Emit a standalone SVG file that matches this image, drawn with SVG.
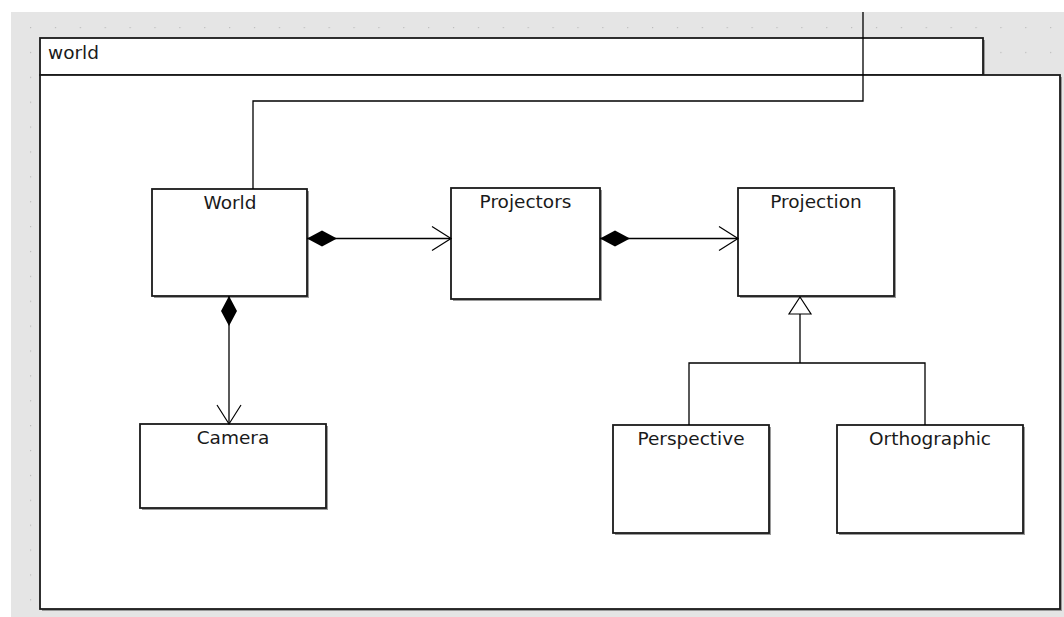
<svg xmlns="http://www.w3.org/2000/svg" width="1064" height="617" viewBox="0 0 1064 617">
  <defs>
    <pattern id="grid" x="30" y="27" width="24.88" height="24.88" patternUnits="userSpaceOnUse">
      <rect x="-1.2" y="-1.2" width="2.4" height="2.4" fill="#bcbcbc"/>
    </pattern>
    <marker id="diamond" markerUnits="userSpaceOnUse" markerWidth="32" markerHeight="20" refX="0" refY="0" viewBox="-1 -10 32 20" orient="auto" overflow="visible">
      <path d="M0,0 L15,-8 L30,0 L15,8 Z" fill="#000"/>
    </marker>
    <marker id="open" markerUnits="userSpaceOnUse" markerWidth="24" markerHeight="28" refX="0" refY="0" viewBox="-22 -14 24 28" orient="auto" overflow="visible">
      <path d="M-19,-12 L0,0 L-19,12" fill="none" stroke="#000" stroke-width="1.2"/>
    </marker>
    <marker id="tri" markerUnits="userSpaceOnUse" markerWidth="22" markerHeight="26" refX="0" refY="0" viewBox="-19 -13 22 26" orient="auto" overflow="visible">
      <path d="M0,0 L-17,-11 L-17,11 Z" fill="#fff" stroke="#000" stroke-width="1.2"/>
    </marker>
  </defs>
  <style>
    .shadow { fill: #9a9a9a; }
    .box { fill: #ffffff; stroke: #1a1a1a; stroke-width: 1.8; }
    .lbl { font-family: "DejaVu Sans", "Liberation Sans", sans-serif; font-size: 18.5px; fill: #1a1a1a; text-anchor: middle; }
    .pkg { font-family: "DejaVu Sans", "Liberation Sans", sans-serif; font-size: 18.5px; fill: #1a1a1a; }
    .conn { fill: none; stroke: #000; stroke-width: 1.3; }
  </style>

  <!-- canvas -->
  <rect x="0" y="0" width="1064" height="617" fill="#ffffff"/>
  <rect x="11" y="12" width="1053" height="605" fill="#e5e5e5"/>
  <rect x="11" y="12" width="1053" height="605" fill="url(#grid)"/>

  <!-- package -->
  <g id="package-world">
    <rect class="shadow" x="42" y="40" width="943" height="37"/>
    <rect class="box" x="40" y="38" width="943" height="37"/>
    <rect class="shadow" x="42" y="77" width="1020" height="534"/>
    <rect class="box" x="40" y="75" width="1020" height="534"/>
    <text class="pkg" x="48" y="59">world</text>
  </g>

  <!-- nodes -->
  <g id="node-World">
    <rect class="shadow" x="154" y="191" width="155" height="107"/>
    <rect class="box" x="152" y="189" width="155" height="107"/>
    <text class="lbl" x="230" y="209">World</text>
  </g>
  <g id="node-Projectors">
    <rect class="shadow" x="453" y="190" width="149" height="111"/>
    <rect class="box" x="451" y="188" width="149" height="111"/>
    <text class="lbl" x="525.5" y="208">Projectors</text>
  </g>
  <g id="node-Projection">
    <rect class="shadow" x="740" y="190" width="156" height="108"/>
    <rect class="box" x="738" y="188" width="156" height="108"/>
    <text class="lbl" x="816" y="208">Projection</text>
  </g>
  <g id="node-Camera">
    <rect class="shadow" x="142" y="426" width="186" height="84"/>
    <rect class="box" x="140" y="424" width="186" height="84"/>
    <text class="lbl" x="233" y="444">Camera</text>
  </g>
  <g id="node-Perspective">
    <rect class="shadow" x="615" y="427" width="156" height="108"/>
    <rect class="box" x="613" y="425" width="156" height="108"/>
    <text class="lbl" x="691" y="445">Perspective</text>
  </g>
  <g id="node-Orthographic">
    <rect class="shadow" x="839" y="427" width="186" height="108"/>
    <rect class="box" x="837" y="425" width="186" height="108"/>
    <text class="lbl" x="930" y="445">Orthographic</text>
  </g>

  <!-- connectors -->
  <g id="connectors">
    <path class="conn" d="M253,189 L253,101 L863,101 L863,12"/>
    <path class="conn" d="M307,238.5 L451,238.5" marker-start="url(#diamond)" marker-end="url(#open)"/>
    <path class="conn" d="M600,238.5 L738,238.5" marker-start="url(#diamond)" marker-end="url(#open)"/>
    <path class="conn" d="M229,296 L229,424" marker-start="url(#diamond)" marker-end="url(#open)"/>
    <path class="conn" d="M689,425 L689,363 L925,363 L925,425"/>
    <path class="conn" d="M800,363 L800,297" marker-end="url(#tri)"/>
  </g>
</svg>
